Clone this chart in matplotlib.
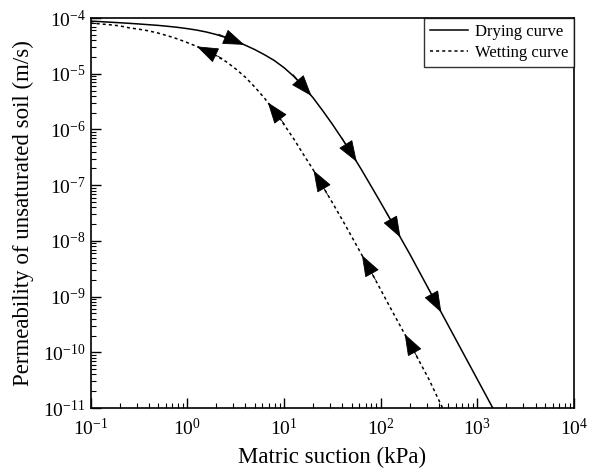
"""Unsaturated permeability functions (drying and wetting) against matric suction."""

import matplotlib

matplotlib.use("Agg")
import matplotlib.pyplot as plt
import numpy as np

plt.rcParams["font.family"] = ["Liberation Serif", "DejaVu Serif"]
plt.rcParams["mathtext.fontset"] = "stix"

# matric suction (kPa) and permeability (m/s) along the drying branch
drying_suction = [0.1, 0.126, 0.158, 0.2, 0.251, 0.316, 0.398, 0.501, 0.631, 0.794,
                  1.0, 1.26, 1.58, 2.0, 2.51, 3.16, 3.98, 5.01, 6.31, 7.94,
                  10.0, 12.6, 15.8, 20.0, 25.1, 31.6, 39.8, 50.1, 63.1, 79.4,
                  100.0, 126.0, 158.0, 200.0, 251.0, 398.0, 631.0, 1000.0, 1445.0]
drying_perm = [8.81e-5, 8.63e-5, 8.43e-5, 8.24e-5, 8.04e-5, 7.83e-5, 7.60e-5, 7.38e-5, 7.11e-5, 6.81e-5,
               6.46e-5, 6.07e-5, 5.61e-5, 5.06e-5, 4.46e-5, 3.85e-5, 3.26e-5, 2.71e-5, 2.19e-5, 1.73e-5,
               1.29e-5, 9.04e-6, 5.97e-6, 3.71e-6, 2.19e-6, 1.25e-6, 6.89e-7, 3.69e-7, 1.92e-7, 9.73e-8,
               4.89e-8, 2.43e-8, 1.20e-8, 5.82e-9, 2.80e-9, 6.35e-10, 1.44e-10, 3.27e-11, 1.0e-11]

# wetting branch
wetting_suction = [0.1, 0.126, 0.158, 0.2, 0.251, 0.316, 0.398, 0.501, 0.631, 0.794,
                   1.0, 1.26, 1.58, 2.0, 2.51, 3.16, 3.98, 5.01, 6.31, 7.94,
                   10.0, 12.6, 15.8, 20.0, 25.1, 31.6, 39.8, 50.1, 63.1, 79.4,
                   126.0, 200.0, 316.0, 437.0]
wetting_perm = [8.13e-5, 7.85e-5, 7.59e-5, 7.24e-5, 6.68e-5, 6.31e-5, 5.89e-5, 5.37e-5, 4.79e-5, 4.22e-5,
                3.63e-5, 3.09e-5, 2.57e-5, 2.09e-5, 1.66e-5, 1.23e-5, 8.71e-6, 5.75e-6, 3.63e-6, 2.16e-6,
                1.23e-6, 6.84e-7, 3.63e-7, 1.91e-7, 9.66e-8, 4.90e-8, 2.45e-8, 1.20e-8, 5.82e-9, 2.82e-9,
                6.31e-10, 1.45e-10, 3.27e-11, 1.0e-11]

# suction values where direction arrows sit on each branch
drying_arrows = [3.35, 17.3, 51.9, 148.0, 392.0]
wetting_arrows = [1.46, 7.53, 22.0, 69.4, 192.0]


def add_arrows(ax, xs, ys, positions, backwards=False, size=14):
    """Centre filled arrowheads on a curve, pointing along (or against) it."""
    lx, ly = np.log10(xs), np.log10(ys)
    to_px = ax.transData
    to_data = ax.transData.inverted()
    for pos in positions:
        c = np.log10(pos)
        p0 = to_px.transform((10 ** (c - 0.03), 10 ** np.interp(c - 0.03, lx, ly)))
        p1 = to_px.transform((10 ** (c + 0.03), 10 ** np.interp(c + 0.03, lx, ly)))
        u = (p1 - p0) / np.hypot(*(p1 - p0))
        if backwards:
            u = -u
        mid = to_px.transform((pos, 10 ** np.interp(c, lx, ly)))
        tip = to_data.transform(mid + u * size / 2)
        tail = to_data.transform(mid - u * size * 1.5)
        ax.annotate(
            "",
            xy=tip,
            xytext=tail,
            arrowprops=dict(arrowstyle="-|>,head_length=1.0,head_width=0.36",
                            mutation_scale=size, color="black", lw=0.6,
                            shrinkA=0, shrinkB=0),
        )


fig = plt.figure(figsize=(5.94, 4.75), dpi=100)
ax = fig.add_axes([0.1524, 0.141, 0.814, 0.821])

ax.set_xscale("log")
ax.set_yscale("log")
ax.set_xlim(1e-1, 1e4)
ax.set_ylim(1e-11, 1e-4)

ax.plot(drying_suction, drying_perm, color="black", lw=1.1, label="Drying curve")
ax.plot(wetting_suction, wetting_perm, color="black", lw=1.1,
        linestyle=(0, (2, 2)), label="Wetting curve")

add_arrows(ax, drying_suction, drying_perm, drying_arrows)
add_arrows(ax, wetting_suction, wetting_perm, wetting_arrows, backwards=True)

ax.tick_params(which="both", direction="in", top=False, right=False, labelsize=14)
ax.tick_params(which="major", length=7, width=1)
ax.tick_params(which="minor", length=3.5, width=0.8)
ax.xaxis.set_tick_params(pad=7)
for side in ax.spines.values():
    side.set_linewidth(1.2)

ax.set_xlabel("Matric suction (kPa)", fontsize=16.5, labelpad=6)
ax.set_ylabel("Permeability of unsaturated soil (m/s)", fontsize=16.5, labelpad=7)

leg = ax.legend(loc="upper right", fontsize=12, frameon=True, fancybox=False,
                borderaxespad=0, handlelength=2.3, borderpad=0.35,
                labelspacing=0.3, handletextpad=0.4)
leg.get_frame().set_edgecolor("black")
leg.get_frame().set_linewidth(1.0)

fig.savefig("out.png", dpi=100)
